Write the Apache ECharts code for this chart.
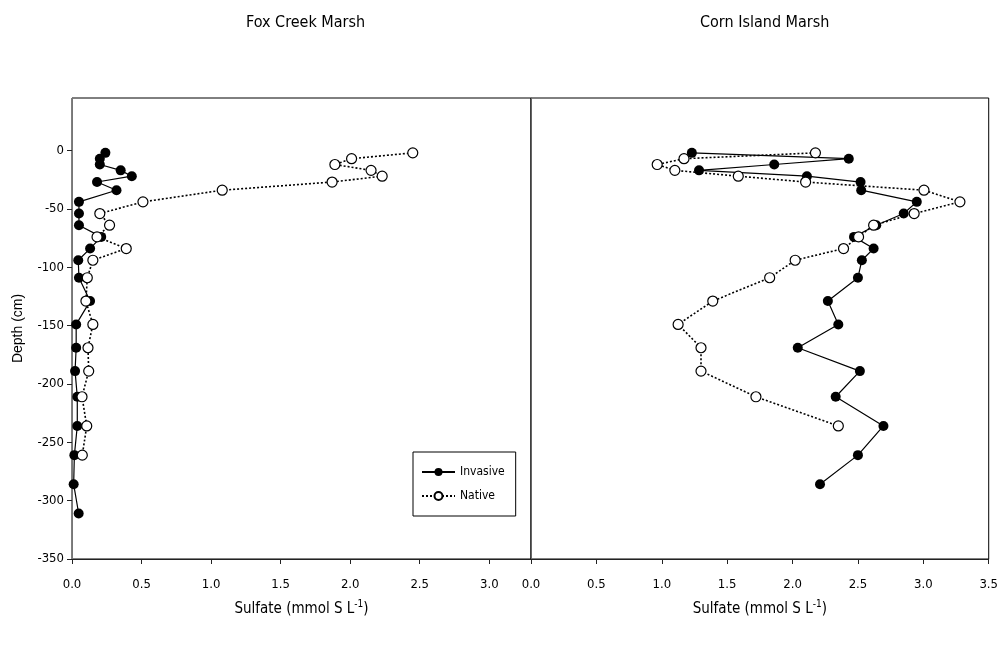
<!DOCTYPE html>
<html>
<head>
<meta charset="utf-8">
<script src="https://cdn.jsdelivr.net/npm/echarts@6/dist/echarts.min.js"></script>
<style>html,body{margin:0;padding:0;background:#fff}#c{width:1001px;height:647px}</style>
</head>
<body>
<div id="c"></div>
<script>
// Depths (cm) of the core sections
var depths = [-2, -7, -12, -17, -22, -27, -34, -44, -54, -64, -74, -84, -94, -109, -129, -149, -169, -189, -211, -236, -261, -286, -311];
// Fox Creek Marsh sulfate (mmol S L-1)
var foxInvasive = [0.24, 0.20, 0.20, 0.35, 0.43, 0.18, 0.32, 0.05, 0.05, 0.05, 0.21, 0.13, 0.045, 0.05, 0.13, 0.03, 0.03, 0.022, 0.038, 0.038, 0.017, 0.012, 0.048];
var foxNative = [2.45, 2.01, 1.89, 2.15, 2.23, 1.87, 1.08, 0.51, 0.20, 0.27, 0.18, 0.39, 0.15, 0.11, 0.10, 0.15, 0.115, 0.12, 0.072, 0.106, 0.074];
// Corn Island Marsh sulfate (mmol S L-1)
var cornInvasive = [1.23, 2.43, 1.86, 1.285, 2.11, 2.52, 2.525, 2.95, 2.85, 2.64, 2.47, 2.62, 2.53, 2.50, 2.27, 2.35, 2.04, 2.515, 2.33, 2.695, 2.50, 2.21];
var cornNative = [2.175, 1.17, 0.965, 1.10, 1.585, 2.10, 3.005, 3.28, 2.93, 2.62, 2.505, 2.39, 2.02, 1.825, 1.39, 1.125, 1.30, 1.30, 1.72, 2.35];
// Axis ticks
var xTicksFox = [0, 0.5, 1.0, 1.5, 2.0, 2.5, 3.0];
var xTicksCorn = [0, 0.5, 1.0, 1.5, 2.0, 2.5, 3.0, 3.5];
var yTicks = [-350, -300, -250, -200, -150, -100, -50, 0];

function pairs(vals) { return vals.map(function (v, i) { return [v, depths[i]]; }); }

var narrow = "'Liberation Sans Narrow', 'DejaVu Sans Condensed', sans-serif";
var regular = "'Liberation Sans', Arial, sans-serif";

function inList(v, list) {
  for (var i = 0; i < list.length; i++) { if (Math.abs(v - list[i]) < 1e-6) return true; }
  return false;
}

function xAxis(idx, max, ticks) {
  return {
    type: 'value', gridIndex: idx, min: 0, max: max, interval: 0.5,
    name: '{n|Sulfate (mmol S L}{s|-1}{n|)}',
    nameLocation: 'middle', nameGap: 40,
    nameTextStyle: { rich: { n: { fontFamily: narrow, fontSize: 15, color: '#000', verticalAlign: 'bottom', lineHeight: 18 }, s: { fontFamily: narrow, fontSize: 10, color: '#000', verticalAlign: 'top', lineHeight: 18, padding: [0, 0, 8, 0] } } },
    axisLine: { show: true, onZero: false, lineStyle: { color: '#222', width: 1 } },
    axisTick: { show: true, inside: false, length: 5, customValues: ticks, lineStyle: { color: '#222' } },
    splitLine: { show: false },
    axisLabel: {
      margin: 19, color: '#000', fontFamily: narrow, fontSize: 13, customValues: ticks,
      formatter: function (v) { return inList(v, ticks) ? v.toFixed(1) : ''; }
    }
  };
}

function yAxis(idx, showLabels) {
  return {
    type: 'value', gridIndex: idx, min: -350, max: 45, interval: 50,
    name: showLabels ? 'Depth (cm)' : '',
    nameLocation: 'middle', nameGap: 47, nameRotate: 90,
    nameTextStyle: { fontFamily: regular, fontSize: 14, color: '#000' },
    axisLine: { show: true, onZero: false, lineStyle: { color: showLabels ? '#777' : '#666', width: 1 } },
    axisTick: { show: showLabels, length: 5, customValues: yTicks, lineStyle: { color: '#222' } },
    splitLine: { show: false },
    axisLabel: {
      show: showLabels, margin: 8, color: '#000', fontFamily: narrow, fontSize: 13, customValues: yTicks,
      formatter: function (v) { return inList(v, yTicks) ? String(v) : ''; }
    }
  };
}

function series(name, vals, xi, filled) {
  return {
    name: name, type: 'line', xAxisIndex: xi, yAxisIndex: xi,
    data: pairs(vals), symbol: 'circle', symbolSize: 10, animation: false,
    lineStyle: { color: '#000', width: filled ? 1.2 : 1.6, type: filled ? 'solid' : [2, 2] },
    itemStyle: { color: filled ? '#000' : '#fff', borderColor: '#000', borderWidth: filled ? 0 : 1.2 },
    emphasis: { disabled: true }
  };
}

var chart = echarts.init(document.getElementById('c'), null, { renderer: 'canvas' });
chart.setOption({
  backgroundColor: '#fff',
  animation: false,
  grid: [
    { left: 72, right: 470, top: 98, bottom: 88, show: true, borderColor: '#000', borderWidth: 1 },
    { left: 531, right: 11, top: 98, bottom: 88, show: true, borderColor: '#000', borderWidth: 1 }
  ],
  xAxis: [xAxis(0, 3.3, xTicksFox), xAxis(1, 3.5, xTicksCorn)],
  yAxis: [yAxis(0, true), yAxis(1, false)],
  legend: {
    left: 413, top: 452, orient: 'vertical',
    data: ['Invasive', 'Native'],
    itemWidth: 33, itemHeight: 10, itemGap: 12,
    padding: [14, 11, 14, 8],
    borderColor: '#000', borderWidth: 1,
    textStyle: { fontFamily: narrow, fontSize: 12, color: '#000' },
    selectedMode: false
  },
  graphic: [
    { type: 'text', left: 301 - 55, top: 15, style: { text: 'Fox Creek Marsh', fontFamily: narrow, fontSize: 16, fill: '#000' } },
    { type: 'text', left: 760 - 60, top: 15, style: { text: 'Corn Island Marsh', fontFamily: narrow, fontSize: 16, fill: '#000' } }
  ],
  series: [
    series('Invasive', foxInvasive, 0, true),
    series('Native', foxNative, 0, false),
    series('Invasive', cornInvasive, 1, true),
    series('Native', cornNative, 1, false)
  ]
});
</script>
</body>
</html>
